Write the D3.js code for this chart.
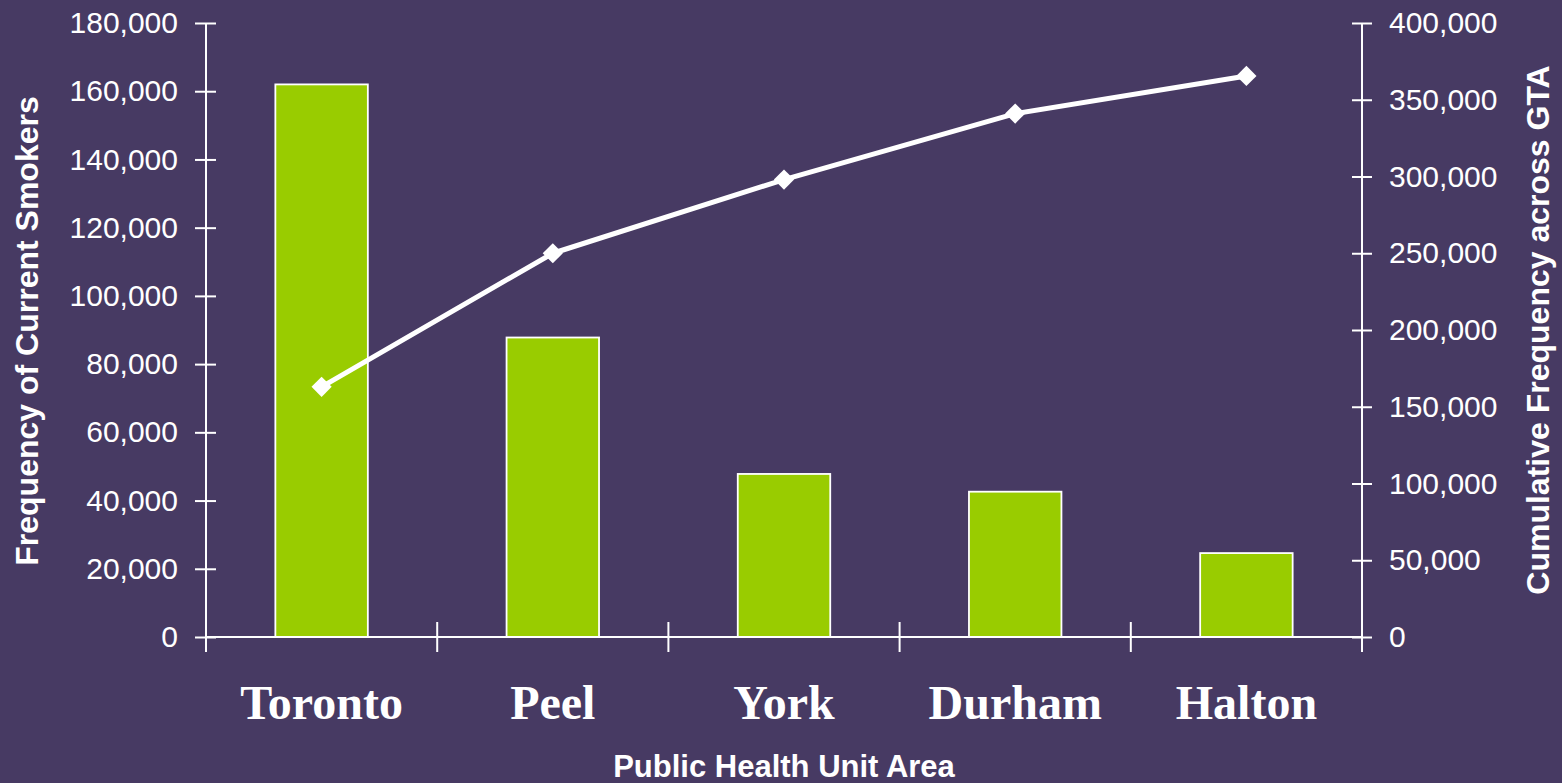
<!DOCTYPE html>
<html>
<head>
<meta charset="utf-8">
<script src="https://cdn.jsdelivr.net/npm/d3@7"></script>
<style>
  html, body { margin: 0; padding: 0; background: #473a63; }
  svg { display: block; }
</style>
</head>
<body>
<svg id="chart" width="1562" height="783"></svg>
<script>
// Smokers by public health unit (GTA)
const units = ["Toronto", "Peel", "York", "Durham", "Halton"];
const smokers = [162000, 87800, 47800, 42600, 24600];
const cumulative = [163000, 250000, 298000, 341000, 365500];
const leftTicks = [0, 20000, 40000, 60000, 80000, 100000, 120000, 140000, 160000, 180000];
const rightTicks = [0, 50000, 100000, 150000, 200000, 250000, 300000, 350000, 400000];

const W = 1562, H = 783;
const plot = { left: 206, right: 1362, top: 23, bottom: 637 };
const bg = "#473a63", barFill = "#99cc00", white = "#ffffff";

const svg = d3.select("#chart");
svg.append("rect").attr("width", W).attr("height", H).attr("fill", bg);

const x = d3.scaleBand().domain(units).range([plot.left, plot.right]).padding(0);
const yL = d3.scaleLinear().domain([0, 180000]).range([plot.bottom, plot.top]);
const yR = d3.scaleLinear().domain([0, 400000]).range([plot.bottom, plot.top]);
const fmt = d3.format(",");
const barW = x.bandwidth() * 0.4;

// Bars
svg.append("g").selectAll("rect").data(units).join("rect")
  .attr("x", (d) => x(d) + x.bandwidth() / 2 - barW / 2)
  .attr("y", (d, i) => yL(smokers[i]))
  .attr("width", barW)
  .attr("height", (d, i) => plot.bottom - yL(smokers[i]))
  .attr("fill", barFill)
  .attr("stroke", white)
  .attr("stroke-width", 1.8);

const tickFont = "30px 'Liberation Sans', Arial, sans-serif";

// Left axis
const gL = svg.append("g").attr("transform", `translate(${plot.left},0)`)
  .call(d3.axisLeft(yL).tickValues(leftTicks).tickFormat(fmt).tickSize(0).tickPadding(28));
gL.select(".domain").remove();
gL.append("line").attr("x1", 0).attr("x2", 0).attr("y1", plot.top).attr("y2", plot.bottom + 15)
  .attr("stroke", white).attr("stroke-width", 2);
gL.selectAll(".tick").append("line").attr("x1", -11).attr("x2", 10).attr("stroke", white).attr("stroke-width", 2);
gL.selectAll(".tick text").attr("fill", white).style("font", tickFont);

// Right axis
const gR = svg.append("g").attr("transform", `translate(${plot.right},0)`)
  .call(d3.axisRight(yR).tickValues(rightTicks).tickFormat(fmt).tickSize(0).tickPadding(27));
gR.select(".domain").remove();
gR.append("line").attr("x1", 0).attr("x2", 0).attr("y1", plot.top).attr("y2", plot.bottom + 15)
  .attr("stroke", white).attr("stroke-width", 2);
gR.selectAll(".tick").append("line").attr("x1", -10).attr("x2", 10).attr("stroke", white).attr("stroke-width", 2);
gR.selectAll(".tick text").attr("fill", white).style("font", tickFont);

// Category axis
const gX = svg.append("g").attr("transform", `translate(0,${plot.bottom})`)
  .call(d3.axisBottom(x).tickSize(0).tickPadding(48));
gX.select(".domain").remove();
gX.append("line").attr("x1", plot.left).attr("x2", plot.right).attr("stroke", white).attr("stroke-width", 2);
const bounds = units.map((u) => x(u)).concat([plot.right]);
gX.selectAll("line.sep").data(bounds.slice(1, -1)).join("line").attr("class", "sep")
  .attr("x1", (d) => d).attr("x2", (d) => d).attr("y1", -15).attr("y2", 15)
  .attr("stroke", white).attr("stroke-width", 2);
gX.selectAll(".tick text").attr("fill", white)
  .style("font", "bold 48px 'Liberation Serif', 'Times New Roman', serif");

// Cumulative line
const cx = (d, i) => x(units[i]) + x.bandwidth() / 2;
const line = d3.line().x((d, i) => cx(d, i)).y((d) => yR(d));
svg.append("path").datum(cumulative).attr("d", line)
  .attr("fill", "none").attr("stroke", white).attr("stroke-width", 5).attr("stroke-linejoin", "round");
svg.append("g").selectAll("path").data(cumulative).join("path")
  .attr("d", d3.symbol(d3.symbolDiamond2, 260))
  .attr("transform", (d, i) => `translate(${cx(d, i)},${yR(d)})`)
  .attr("fill", white);

// Axis titles
const titleFont = "bold 32px 'Liberation Sans', Arial, sans-serif";
svg.append("text").attr("transform", `translate(38,${(plot.top + plot.bottom) / 2 + 1}) rotate(-90)`)
  .attr("text-anchor", "middle").attr("fill", white).style("font", titleFont)
  .text("Frequency of Current Smokers");
svg.append("text").attr("transform", `translate(1549,${(plot.top + plot.bottom) / 2}) rotate(-90)`)
  .attr("text-anchor", "middle").attr("fill", white).style("font", titleFont)
  .text("Cumulative Frequency across GTA");
svg.append("text").attr("x", 784).attr("y", 777)
  .attr("text-anchor", "middle").attr("fill", white)
  .style("font", "bold 31px 'Liberation Sans', Arial, sans-serif")
  .text("Public Health Unit Area");
</script>
</body>
</html>
